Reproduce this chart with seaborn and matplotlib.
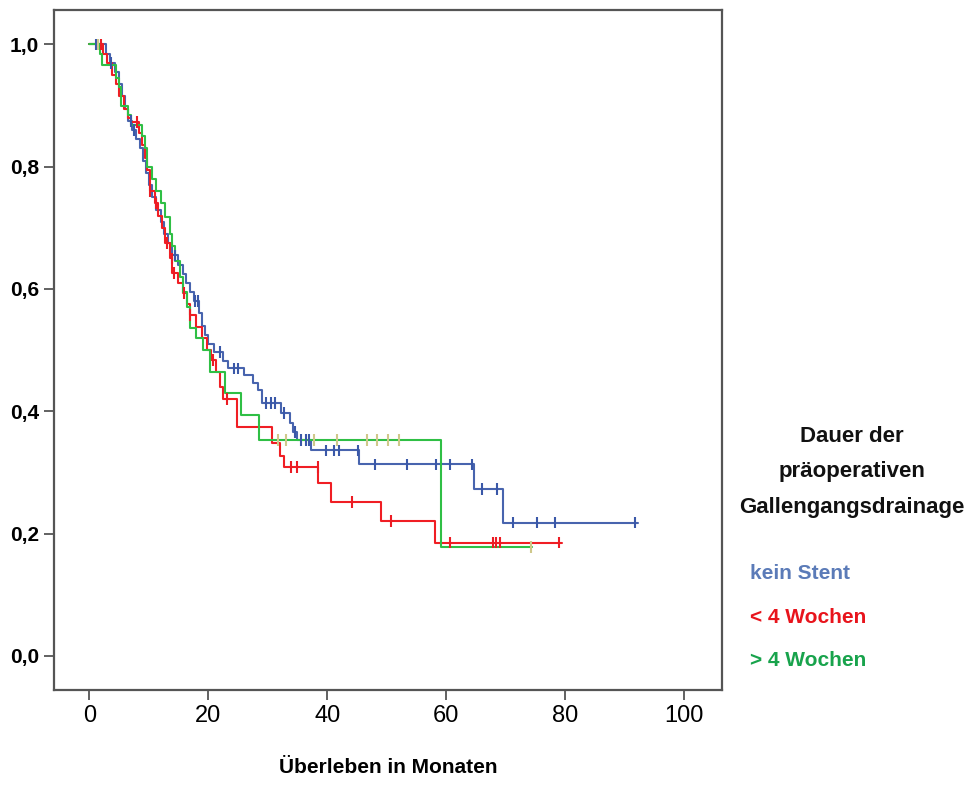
import numpy as np
import pandas as pd
import matplotlib
matplotlib.use("Agg")
import matplotlib.pyplot as plt
import seaborn as sns

# Kaplan-Meier Stufen (Zeit in Monaten, Überleben nach dem Ereignis)
blue_t = [0, 2.8, 3.5, 4.3, 5.0, 5.5, 6.0, 6.5, 7.2, 7.8, 8.5, 9.0, 9.5, 10.0, 10.6,
          11.3, 12.0, 12.6, 13.2, 14.0, 15.0, 15.7, 16.3, 17.0, 17.7, 18.5, 18.9, 19.4,
          20.0, 20.9, 22.5, 23.3, 26.0, 27.6, 28.3, 29.0, 32.3, 33.7, 34.2, 35.0, 37.3,
          45.3, 64.6, 69.5, 92.3]
blue_s = [1.0, 0.985, 0.97, 0.955, 0.935, 0.915, 0.895, 0.875, 0.86, 0.845, 0.83, 0.81,
          0.79, 0.77, 0.75, 0.73, 0.71, 0.69, 0.675, 0.655, 0.64, 0.625, 0.61, 0.595, 0.58,
          0.56, 0.54, 0.525, 0.51, 0.497, 0.483, 0.47, 0.46, 0.447, 0.435, 0.413, 0.397,
          0.38, 0.366, 0.353, 0.336, 0.313, 0.273, 0.218, 0.218]
blue_cens = [1.2, 3.7, 7.0, 7.6, 14.5, 17.8, 18.3, 22.0, 24.3, 25.0, 29.8, 30.6, 31.3,
             32.8, 34.6, 35.6, 36.4, 37.0, 39.8, 41.2, 42.0, 45.2, 48.0, 53.5, 58.3, 60.7,
             64.4, 66.0, 68.5, 71.3, 75.2, 78.3, 91.8]

red_t = [0, 2.3, 3.0, 3.8, 4.5, 5.0, 5.8, 6.5, 7.0, 8.3, 8.8, 9.3, 9.8, 10.3, 11.0, 11.6,
         12.2, 12.8, 13.6, 14.0, 15.0, 15.8, 16.5, 17.0, 18.0, 19.0, 19.8, 20.5, 21.3,
         22.0, 22.5, 24.8, 30.8, 32.0, 32.8, 38.5, 40.6, 49.1, 58.2, 79.5]
red_s = [1.0, 0.985, 0.97, 0.95, 0.935, 0.915, 0.895, 0.88, 0.873, 0.855, 0.835, 0.815,
         0.795, 0.76, 0.74, 0.72, 0.70, 0.675, 0.65, 0.626, 0.61, 0.593, 0.575, 0.557,
         0.538, 0.52, 0.50, 0.484, 0.465, 0.44, 0.42, 0.375, 0.348, 0.326, 0.309, 0.282,
         0.252, 0.22, 0.185, 0.185]
red_cens = [1.9, 8.1, 10.3, 11.2, 13.1, 13.9, 14.2, 15.9, 17.0, 20.8, 23.2, 34.0, 35.0,
            38.4, 44.2, 50.8, 60.7, 67.8, 68.3, 69.0, 79.0]

green_t = [0, 1.8, 2.2, 4.5, 5.0, 5.3, 6.5, 7.0, 8.8, 9.3, 9.8, 10.5, 11.3, 12.0, 12.8,
           13.5, 14.0, 14.5, 15.2, 15.8, 16.5, 17.0, 18.0, 19.2, 20.3, 22.8, 25.5, 28.6,
           59.1, 74.5]
green_s = [1.0, 0.985, 0.966, 0.945, 0.93, 0.90, 0.885, 0.868, 0.85, 0.83, 0.80, 0.78,
           0.76, 0.74, 0.718, 0.69, 0.67, 0.645, 0.62, 0.595, 0.57, 0.536, 0.52, 0.50,
           0.465, 0.43, 0.394, 0.353, 0.178, 0.178]
green_cens = [1.5, 31.7, 33.0, 37.8, 41.7, 46.7, 48.3, 50.2, 52.0, 74.3]

groups = ["kein Stent", "< 4 Wochen", "> 4 Wochen"]
line_colors = ["#4864ae", "#f01e24", "#2fbf45"]
cens_colors = ["#3a58a8", "#ec1c24", "#cfc88a"]
text_colors = ["#5b7bb8", "#e8141c", "#18a34c"]

sns.set_style("white")
plt.rcParams["font.family"] = ["Liberation Sans", "DejaVu Sans"]

steps = []
cens = []
for g, t, s, c in zip(groups, [blue_t, red_t, green_t], [blue_s, red_s, green_s],
                      [blue_cens, red_cens, green_cens]):
    steps.append(pd.DataFrame({"zeit": t, "surv": s, "gruppe": g}))
    t_arr = np.array(t)
    s_arr = np.array(s)
    idx = np.searchsorted(t_arr, c, side="right") - 1
    cens.append(pd.DataFrame({"zeit": c, "surv": s_arr[idx], "gruppe": g}))
df_steps = pd.concat(steps, ignore_index=True)
df_cens = pd.concat(cens, ignore_index=True)

fig = plt.figure(figsize=(9.66, 7.85), dpi=100)
ax = fig.add_axes([0.056, 0.121, 0.691, 0.866])

sns.lineplot(data=df_steps, x="zeit", y="surv", hue="gruppe", hue_order=groups,
             palette=line_colors, estimator=None, drawstyle="steps-post",
             linewidth=1.5, legend=False, ax=ax)
sns.scatterplot(data=df_cens, x="zeit", y="surv", hue="gruppe", hue_order=groups,
                palette=cens_colors, marker="|", s=70, linewidth=1.5,
                legend=False, ax=ax, zorder=3)

ax.set_xlim(-5.9, 106.3)
ax.set_ylim(-0.056, 1.056)
ax.set_xticks([0, 20, 40, 60, 80, 100])
ax.set_yticks([0.0, 0.2, 0.4, 0.6, 0.8, 1.0])
ax.set_yticklabels(["0,0", "0,2", "0,4", "0,6", "0,8", "1,0"], fontsize=15,
                   fontweight="bold", color="black")
ax.set_xticklabels(["0", "20", "40", "60", "80", "100"], fontsize=17, color="black")
ax.tick_params(axis="both", direction="out", length=7, width=1.3, color="#555555",
               left=True, bottom=True, pad=4)
ax.set_xlabel("Überleben in Monaten", fontsize=15, fontweight="bold", labelpad=22,
              color="black")
ax.set_ylabel("")
for sp in ax.spines.values():
    sp.set_color("#555555")
    sp.set_linewidth(1.6)

# Legende als Text rechts
fig.text(0.882, 0.399, "Dauer der\npräoperativen\nGallengangsdrainage", ha="center",
         va="center", fontsize=16, fontweight="bold", color="#111111", linespacing=1.9)
for i, (g, col) in enumerate(zip(groups, text_colors)):
    fig.text(0.776, 0.269 - i * 0.055, g, ha="left", va="center", fontsize=15,
             fontweight="bold", color=col)

fig.savefig("out.png", dpi=100)
